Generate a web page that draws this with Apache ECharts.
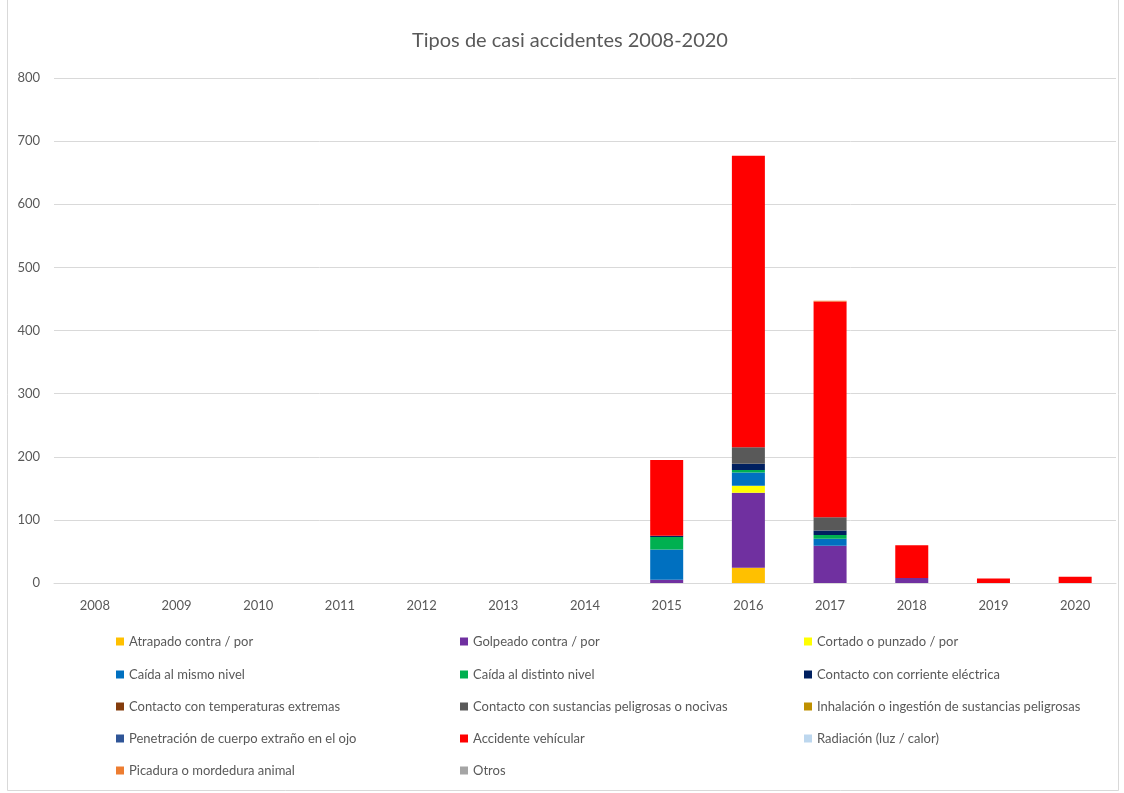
<!DOCTYPE html>
<html>
<head>
<meta charset="utf-8">
<script src="https://cdn.jsdelivr.net/npm/echarts@6/dist/echarts.min.js"></script>
<style>html,body{margin:0;padding:0;background:#fff}#c{width:1124px;height:793px}</style>
</head>
<body>
<div id="c"></div>
<script>
const years = ['2008','2009','2010','2011','2012','2013','2014','2015','2016','2017','2018','2019','2020'];
const seriesNames = [
  'Atrapado contra / por','Golpeado contra / por','Cortado o punzado / por',
  'Caída al mismo nivel','Caída al distinto nivel','Contacto con corriente eléctrica',
  'Contacto con temperaturas extremas','Contacto con sustancias peligrosas o nocivas','Inhalación o ingestión de sustancias peligrosas',
  'Penetración de cuerpo extraño en el ojo','Accidente vehícular','Radiación (luz / calor)',
  'Picadura o mordedura animal','Otros'
];
const atrapado     = [0,0,0,0,0,0,0, 0, 24, 0, 0,0,0];
const golpeado     = [0,0,0,0,0,0,0, 5,119,59, 8,0,0];
const cortado      = [0,0,0,0,0,0,0, 0, 11, 0, 0,0,0];
const caidaMismo   = [0,0,0,0,0,0,0,48, 21,11, 0,0,0];
const caidaDistinto= [0,0,0,0,0,0,0,20,  4, 6, 0,0,0];
const corriente    = [0,0,0,0,0,0,0, 2, 10, 7, 0,0,0];
const temperaturas = [0,0,0,0,0,0,0, 0,  0, 0, 0,0,0];
const sustancias   = [0,0,0,0,0,0,0, 0, 26,21, 0,0,0];
const inhalacion   = [0,0,0,0,0,0,0, 0,  0, 0, 0,0,0];
const penetracion  = [0,0,0,0,0,0,0, 0,  0, 0, 0,0,0];
const vehicular    = [0,0,0,0,0,0,0,120,462,342,52,7,10];
const radiacion    = [0,0,0,0,0,0,0, 0,  0, 0, 0,0,0];
const picadura     = [0,0,0,0,0,0,0, 0,  0, 1, 0,0,0];
const otros        = [0,0,0,0,0,0,0, 0,  0, 0, 0,0,0];
const yTicks = [0,100,200,300,400,500,600,700,800];

const allData = [atrapado,golpeado,cortado,caidaMismo,caidaDistinto,corriente,temperaturas,sustancias,inhalacion,penetracion,vehicular,radiacion,picadura,otros];
const colors = ['#FFC000','#7030A0','#FFFF00','#0070C0','#00B050','#002060','#843C0C','#595959','#BF9000','#2F5597','#FF0000','#BDD7EE','#ED7D31','#A5A5A5'];

const FONT = 'Lato';
const series = seriesNames.map((n,i)=>({
  name:n, type:'bar', stack:'total', data: allData[i].map(v=>v===0?null:v),
  barWidth:33, itemStyle:{color:colors[i]}
}));

// legend: 3 columns, row-major order
const colX = [116, 460, 804];
const rowY = [642, 675, 707, 739, 771];
const legends = seriesNames.map((n,i)=>({
  data:[n], orient:'horizontal', icon:'rect', itemWidth:8, itemHeight:8, padding:0,
  left: colX[i%3], top: rowY[Math.floor(i/3)] - 7, selectedMode:false,
  textStyle:{color:'#595959', fontSize:13, fontFamily:FONT}
}));

const chart = echarts.init(document.getElementById('c'), null, {renderer:'canvas'});
chart.setOption({
  animation:false,
  backgroundColor:'#fff',
  color: colors,
  title:{ text:'Tipos de casi accidentes 2008-2020', left:407, top:26,
    textStyle:{color:'#595959', fontSize:20, fontWeight:'normal', fontFamily:FONT}},
  grid:{ left:54, right:8, top:78, bottom:210, containLabel:false },
  legend: legends,
  xAxis:{ type:'category', data:years,
    axisLine:{lineStyle:{color:'#d9d9d9'}}, axisTick:{show:false},
    axisLabel:{color:'#595959', fontSize:13, fontFamily:FONT, margin:16}},
  yAxis:{ type:'value', min:yTicks[0], max:yTicks[yTicks.length-1], interval:100,
    axisLine:{show:false}, axisTick:{show:false},
    splitLine:{lineStyle:{color:'#d9d9d9', width:1}},
    axisLabel:{color:'#595959', fontSize:13, fontFamily:FONT, margin:14}},
  graphic:[{ type:'rect', shape:{x:7.5, y:-2, width:1111, height:792.5},
    style:{fill:null, stroke:'#d9d9d9', lineWidth:1}, silent:true, z:-1 }],
  series: series
});
</script>
</body>
</html>
